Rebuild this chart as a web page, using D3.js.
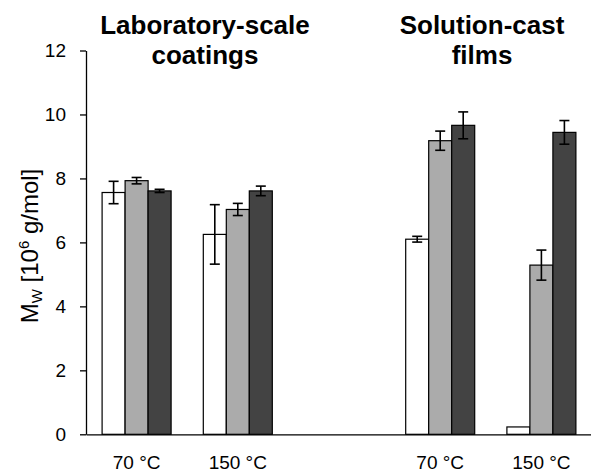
<!DOCTYPE html>
<html>
<head>
<meta charset="utf-8">
<script src="https://cdn.jsdelivr.net/npm/d3@7"></script>
<style>
  html, body { margin: 0; padding: 0; background: #fff; }
  svg { display: block; font-family: "Liberation Sans", Arial, sans-serif; }
</style>
</head>
<body>
<div id="chart"></div>
<script>
// slots along x; "gap" is the empty slot between the two sample types
const slots = ["lab70", "lab150", "gap", "sol70", "sol150"];
const slotLabels = ["70 °C", "150 °C", "", "70 °C", "150 °C"];
const series = ["s1", "s2", "s3"];
const seriesColors = ["#ffffff", "#ababab", "#434343"];

// Mw values [10^6 g/mol], per slot, per series
const values = [
    [7.56, 7.93, 7.61],
    [6.25, 7.03, 7.61],
    null,
    [6.10, 9.18, 9.66],
    [0.23, 5.29, 9.44]
];
const errors = [
    [0.35, 0.10, 0.05],
    [0.93, 0.19, 0.15],
    null,
    [0.09, 0.30, 0.42],
    [0, 0.47, 0.37]
];
const yTicks = [0, 2, 4, 6, 8, 10, 12];
const titles = [
    { lines: ["Laboratory-scale", "coatings"], x: 205 },
    { lines: ["Solution-cast", "films"], x: 482 }
];

const width = 591, height = 472;
const margin = { top: 50.5, right: 0, bottom: 37.7, left: 86 };
const innerH = height - margin.top - margin.bottom;

const svg = d3.select("#chart").append("svg")
    .attr("width", width)
    .attr("height", height);

const x = d3.scaleBand()
    .domain(slots)
    .range([margin.left, margin.left + 506])
    .paddingInner(0)
    .paddingOuter(0);

const groupW = 69;
const xInner = d3.scaleBand()
    .domain(series)
    .range([0, groupW]);

const y = d3.scaleLinear()
    .domain([0, 12])
    .range([margin.top + innerH, margin.top]);

// y axis
const yAxis = svg.append("g")
    .attr("transform", `translate(${margin.left},0)`)
    .call(d3.axisLeft(y).tickValues(yTicks).tickSize(6).tickPadding(14).tickSizeOuter(0));
yAxis.select(".domain").attr("stroke", "#000").attr("stroke-width", 1.3);
yAxis.selectAll(".tick line").attr("stroke", "#000").attr("stroke-width", 1.3);
yAxis.selectAll(".tick text")
    .attr("font-size", 19)
    .attr("fill", "#000")
    .attr("font-family", "Liberation Sans, Arial, sans-serif");

// bars
const groups = svg.append("g")
    .selectAll("g")
    .data(slots.map((s, i) => ({ slot: s, vals: values[i], errs: errors[i] })).filter(d => d.vals))
    .join("g")
    .attr("transform", d => `translate(${x(d.slot) + (x.bandwidth() - groupW) / 2},0)`);

groups.selectAll("rect")
    .data(d => d.vals.map((v, j) => ({ key: series[j], v, e: d.errs[j], j })))
    .join("rect")
    .attr("x", d => xInner(d.key))
    .attr("y", d => y(d.v))
    .attr("width", xInner.bandwidth())
    .attr("height", d => y(0) - y(d.v))
    .attr("fill", d => seriesColors[d.j])
    .attr("stroke", "#000")
    .attr("stroke-width", 1.2);

// error bars
const eb = groups.selectAll("g.err")
    .data(d => d.vals.map((v, j) => ({ key: series[j], v, e: d.errs[j] })).filter(d => d.e > 0))
    .join("g")
    .attr("class", "err")
    .attr("stroke", "#000")
    .attr("stroke-width", 1.6);
eb.append("line")
    .attr("x1", d => xInner(d.key) + xInner.bandwidth() / 2)
    .attr("x2", d => xInner(d.key) + xInner.bandwidth() / 2)
    .attr("y1", d => y(d.v - d.e))
    .attr("y2", d => y(d.v + d.e));
[-1, 1].forEach(sign => {
    eb.append("line")
        .attr("x1", d => xInner(d.key) + xInner.bandwidth() / 2 - 5)
        .attr("x2", d => xInner(d.key) + xInner.bandwidth() / 2 + 5)
        .attr("y1", d => y(d.v + sign * d.e))
        .attr("y2", d => y(d.v + sign * d.e));
});

// x axis (line only, labels under groups)
const xAxis = svg.append("g")
    .attr("transform", `translate(0,${y(0)})`)
    .call(d3.axisBottom(x).tickSize(0).tickPadding(21).tickSizeOuter(0)
        .tickFormat((d, i) => slotLabels[i]));
xAxis.select(".domain").attr("stroke", "#000").attr("stroke-width", 1.3);
xAxis.selectAll(".tick text")
    .attr("font-size", 19)
    .attr("fill", "#000")
    .attr("font-family", "Liberation Sans, Arial, sans-serif");

// y axis title
const yLabel = svg.append("text")
    .attr("transform", `translate(38,246) rotate(-90)`)
    .attr("text-anchor", "middle")
    .attr("font-size", 24)
    .attr("fill", "#000");
yLabel.append("tspan").text("M");
yLabel.append("tspan").attr("font-size", 15).attr("dy", 4).text("W");
yLabel.append("tspan").attr("dy", -4).text(" [10");
yLabel.append("tspan").attr("font-size", 15).attr("dy", -9).text("6");
yLabel.append("tspan").attr("dy", 9).text(" g/mol]");

// panel titles
titles.forEach(t => {
    const txt = svg.append("text")
        .attr("text-anchor", "middle")
        .attr("font-size", 26)
        .attr("font-weight", "bold")
        .attr("fill", "#000");
    t.lines.forEach((line, i) => {
        txt.append("tspan")
            .attr("x", t.x)
            .attr("y", 34 + i * 30)
            .text(line);
    });
});
</script>
</body>
</html>
